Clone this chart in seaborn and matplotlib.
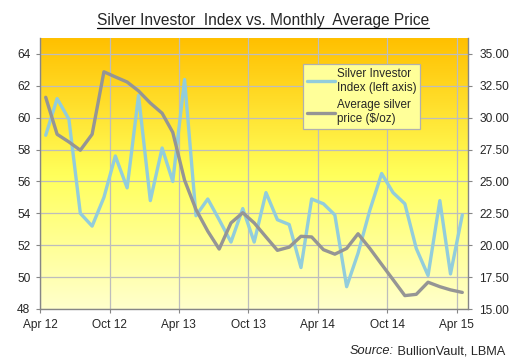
import numpy as np
import pandas as pd
import matplotlib
matplotlib.use("Agg")
import matplotlib.pyplot as plt
import matplotlib.dates as mdates
from matplotlib.colors import LinearSegmentedColormap
from matplotlib.lines import Line2D
from matplotlib.ticker import FuncFormatter
import seaborn as sns

# data, monthly Apr 2012 - Apr 2015
months = pd.date_range("2012-04-01", "2015-04-01", freq="MS")
investor_index = [58.9, 61.2, 59.9, 54.0, 53.2, 55.0, 57.6, 55.6, 61.4, 54.8,
                  58.1, 56.0, 62.4, 53.85, 54.9, 53.6, 52.2, 54.3, 52.2, 55.3,
                  53.6, 53.3, 50.6, 54.9, 54.6, 53.9, 49.4, 51.5, 54.2, 56.5,
                  55.3, 54.6, 51.8, 50.1, 54.8, 50.2, 53.9]
silver_price = [31.6, 28.7, 28.1, 27.45, 28.7, 33.6, 33.2, 32.8, 32.1, 31.15,
                30.35, 28.85, 25.1, 22.8, 21.1, 19.7, 21.75, 22.55, 21.75, 20.65,
                19.6, 19.85, 20.7, 20.65, 19.65, 19.3, 19.75, 20.9, 19.75, 18.5,
                17.3, 16.05, 16.15, 17.1, 16.75, 16.5, 16.3]
tick_months = pd.date_range("2012-04-01", "2015-04-01", freq="6MS")
left_ticks = list(range(48, 65, 2))
right_ticks = [15, 17.5, 20, 22.5, 25, 27.5, 30, 32.5, 35]

labels = {"index": "Silver Investor\nIndex (left axis)",
          "price": "Average silver\nprice ($/oz)"}

df = pd.DataFrame({"date": months + pd.Timedelta(days=15),
                   "index": investor_index,
                   "price": silver_price})

sns.set_style("white")
plt.rcParams["font.family"] = ["Liberation Sans", "DejaVu Sans"]

W, H = 511, 359
fig = plt.figure(figsize=(W / 100, H / 100), dpi=100)
ax = fig.add_axes([40 / W, 1 - 309 / H, 428 / W, 271 / H])
ax2 = ax.twinx()

# gradient background
cmap = LinearSegmentedColormap.from_list(
    "bg", [(0.0, "#FFFFCC"), (0.5, "#FFFF5A"), (1.0, "#FFC000")])
grad = np.linspace(1, 0, 256).reshape(-1, 1)
ax.imshow(grad, cmap=cmap, aspect="auto", extent=[0, 1, 0, 1],
          transform=ax.transAxes, zorder=0, interpolation="bicubic")

blue = "#92CDDC"
grey = "#959595"
sns.lineplot(data=df, x="date", y="index", ax=ax, color=blue, lw=2.4,
             label=labels["index"], legend=False, zorder=3)
sns.lineplot(data=df, x="date", y="price", ax=ax2, color=grey, lw=2.4,
             label=labels["price"], legend=False, zorder=3)

xmin = pd.Timestamp("2012-04-01")
xmax = pd.Timestamp("2015-05-01")
ax.set_xlim(xmin, xmax)
ax.set_ylim(48, 65)
ax2.set_ylim(15, 36.25)

ax.set_xticks(tick_months)
ax.xaxis.set_major_formatter(mdates.DateFormatter("%b %y"))
ax.set_yticks(left_ticks)
ax2.set_yticks(right_ticks)
ax2.yaxis.set_major_formatter(FuncFormatter(lambda v, p: f"{v:.2f}"))

ax.set_xlabel("")
ax.set_ylabel("")
ax2.set_ylabel("")

ax.set_axisbelow(True)
ax.grid(True, color="#BDBDBD", lw=0.9)
ax2.grid(False)

spine_c = "#868686"
for s in ["top", "right"]:
    ax.spines[s].set_visible(False)
for s in ["top", "left", "bottom"]:
    ax2.spines[s].set_visible(False)
for sp in [ax.spines["left"], ax.spines["bottom"], ax2.spines["right"]]:
    sp.set_color(spine_c)
    sp.set_linewidth(1.0)

ax.tick_params(axis="both", which="major", direction="out", length=3,
               width=0.8, color=spine_c, labelsize=8.6, pad=4,
               left=True, bottom=True)
ax2.tick_params(axis="y", direction="out", length=3, width=0.8,
                color=spine_c, labelsize=8.6, pad=5, right=True)

# legend
h1 = Line2D([], [], color=blue, lw=2.4)
h2 = Line2D([], [], color=grey, lw=2.4)
leg = ax2.legend([h1, h2], [labels["index"], labels["price"]],
                 loc="upper left", bbox_to_anchor=(0.615, 0.905),
                 frameon=True, fancybox=False, facecolor="#FFFF99",
                 edgecolor="#B0B0B0", framealpha=1, fontsize=8.4,
                 handlelength=2.4, handletextpad=0.12, borderpad=0.35,
                 labelspacing=0.5, borderaxespad=0)
leg.get_frame().set_linewidth(0.9)

# title with underline
title = fig.text(263 / W, 1 - 21 / H,
                 "Silver Investor  Index vs. Monthly  Average Price",
                 ha="center", va="center", fontsize=11.2)
src_b = fig.text(505 / W, 1 - 351 / H, " BullionVault, LBMA",
                 ha="right", va="center", fontsize=9.2)

fig.canvas.draw()
r = fig.canvas.get_renderer()
bb = title.get_window_extent(r)
yline = bb.y0 + 1
fig.add_artist(Line2D([bb.x0 / W, bb.x1 / W], [yline / H, yline / H],
                      color="black", lw=0.9, transform=fig.transFigure))
sb = src_b.get_window_extent(r)
fig.text(sb.x0 / W, 1 - 351 / H, "Source:", ha="right", va="center",
         fontsize=9.2, style="italic")

fig.savefig("out.png", dpi=100)
